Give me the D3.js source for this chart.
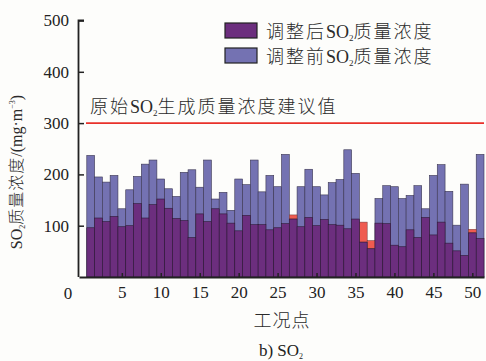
<!DOCTYPE html>
<html><head><meta charset="utf-8">
<script src="https://cdn.jsdelivr.net/npm/d3@7"></script>
<style>
  html,body{margin:0;padding:0;background:#fdfdfb;}
  svg{display:block;}
  text{font-family:"Liberation Serif","Times New Roman",serif;fill:#222;}
  .cjk{font-family:"Liberation Serif","Noto Sans CJK SC",serif;font-weight:300;fill:#2a2a2a;}
</style></head>
<body>
<script>
// 工况点 1..51
const points = d3.range(1, 52);
// 调整前 SO2 质量浓度 (mg/m3)
const before = [237,195,185,198,133,170,196,220,228,191,172,157,204,209,175,228,152,165,130,191,
                180,228,166,198,176,239,113,176,210,176,160,184,190,248,202,68,55,153,178,176,
                153,159,178,133,198,219,167,101,181,86,239];
// 调整后 SO2 质量浓度 (mg/m3)
const after = [96,115,108,118,98,100,143,115,141,152,134,114,110,77,123,108,133,123,105,90,
               120,102,102,92,96,104,121,98,116,100,112,102,101,94,113,107,71,105,104,62,
               59,92,77,116,82,107,66,51,42,93,75];
const limitValue = 300;
const yTicks = [100, 200, 300, 400, 500];
const xTicks = [5, 10, 15, 20, 25, 30, 35, 40, 45, 50];

const W = 486, H = 361;
const colBefore = "#7472b2", colAfter = "#6c2e7e", colOver = "#ef5b50", colLimit = "#e8302a";
const cjkSpacing = 2;

const svg = d3.select("body").append("svg").attr("width", W).attr("height", H);
svg.append("rect").attr("width", W).attr("height", H).attr("fill", "#fdfdfb");

const x = d3.scaleLinear().domain([-0.5, 51.5]).range([79, 484]);
const y = d3.scaleLinear().domain([0, 500]).range([277, 20.5]);
const bw = x(1) - x(0);

const rows = points.map((p, i) => ({p, b: before[i], a: after[i]}));
const g = svg.append("g");

// 调整前 (full height)
g.selectAll("rect.before").data(rows).join("rect")
  .attr("class", "before")
  .attr("x", d => x(d.p) - bw / 2).attr("width", bw)
  .attr("y", d => y(d.b)).attr("height", d => y(0) - y(d.b))
  .attr("fill", colBefore).attr("stroke", "#3a3550").attr("stroke-width", 0.6);

// 调整后 exceeding 调整前
g.selectAll("rect.over").data(rows.filter(d => d.a > d.b)).join("rect")
  .attr("class", "over")
  .attr("x", d => x(d.p) - bw / 2).attr("width", bw)
  .attr("y", d => y(d.a)).attr("height", d => y(d.b) - y(d.a))
  .attr("fill", colOver).attr("stroke", "#6a3a3a").attr("stroke-width", 0.5);

// overlap of both
g.selectAll("rect.after").data(rows).join("rect")
  .attr("class", "after")
  .attr("x", d => x(d.p) - bw / 2).attr("width", bw)
  .attr("y", d => y(Math.min(d.a, d.b))).attr("height", d => y(0) - y(Math.min(d.a, d.b)))
  .attr("fill", colAfter).attr("stroke", "#2e1a36").attr("stroke-width", 0.6);

// limit line
svg.append("line")
  .attr("x1", x(0.4)).attr("x2", x(51.5))
  .attr("y1", y(limitValue)).attr("y2", y(limitValue))
  .attr("stroke", colLimit).attr("stroke-width", 1.6);
const lt = svg.append("text").attr("class", "cjk")
  .attr("x", 90).attr("y", 113).attr("font-size", 18);
lt.append("tspan").text("原始").attr("letter-spacing", cjkSpacing);
lt.append("tspan").text("SO");
lt.append("tspan").text("2").attr("font-size", 9).attr("dy", 3);
lt.append("tspan").text("生成质量浓度建议值").attr("dy", -3).attr("letter-spacing", cjkSpacing);

// axes
const yAxis = d3.axisLeft(y).tickValues(yTicks).tickSizeInner(-5).tickSizeOuter(0).tickPadding(10);
const ya = svg.append("g").attr("transform", `translate(${x(-0.5)},0)`).call(yAxis);
ya.select(".domain").attr("stroke", "#222").attr("stroke-width", 1.8)
  .attr("d", `M-0.5,${y(0)}V${y(500)}H5`);
ya.selectAll(".tick line").attr("stroke", "#222").attr("stroke-width", 1.5);
ya.selectAll(".tick text").attr("font-size", 17).attr("fill", "#222")
  .attr("font-family", "Liberation Serif, serif");

const xAxis = d3.axisBottom(x).tickValues(xTicks).tickSizeInner(-4).tickSizeOuter(0).tickPadding(9);
const xa = svg.append("g").attr("transform", `translate(0,${y(0)})`).call(xAxis);
xa.select(".domain").attr("stroke", "#222").attr("stroke-width", 1.8);
xa.selectAll(".tick line").attr("stroke", "#222").attr("stroke-width", 1.5);
xa.selectAll(".tick text").attr("font-size", 17).attr("fill", "#222")
  .attr("font-family", "Liberation Serif, serif");

// origin label
svg.append("text").attr("x", 68).attr("y", 299).attr("text-anchor", "middle")
  .attr("font-size", 17).text("0");

// y title
const yt = svg.append("text").attr("class", "cjk")
  .attr("transform", `translate(22,172) rotate(-90)`)
  .attr("text-anchor", "middle").attr("font-size", 16);
yt.append("tspan").text("SO");
yt.append("tspan").text("2").attr("font-size", 8).attr("dy", 3);
yt.append("tspan").text("质量浓度").attr("dy", -3).attr("letter-spacing", 1);
yt.append("tspan").text("/(mg·m");
yt.append("tspan").text("−3").attr("font-size", 8).attr("dy", -7);
yt.append("tspan").text(")").attr("dy", 7);

// x title and caption
svg.append("text").attr("class", "cjk").attr("x", 282).attr("y", 327)
  .attr("text-anchor", "middle").attr("font-size", 18).attr("letter-spacing", 1).text("工况点");
const cap = svg.append("text").attr("x", 281).attr("y", 356)
  .attr("text-anchor", "middle").attr("font-size", 17);
cap.append("tspan").text("b) SO");
cap.append("tspan").text("2").attr("font-size", 8).attr("dy", 3);

// legend
const legend = [
  {name: "调整后", color: colAfter},
  {name: "调整前", color: colBefore}
];
const lg = svg.append("g").selectAll("g").data(legend).join("g")
  .attr("transform", (d, i) => `translate(225,${23 + i * 25})`);
lg.append("rect").attr("width", 32).attr("height", 15)
  .attr("fill", d => d.color).attr("stroke", "#222").attr("stroke-width", 1.2);
const lgt = lg.append("text").attr("class", "cjk").attr("x", 41).attr("y", 14.5).attr("font-size", 18);
lgt.append("tspan").text(d => d.name).attr("letter-spacing", cjkSpacing);
lgt.append("tspan").text("SO");
lgt.append("tspan").text("2").attr("font-size", 9).attr("dy", 3);
lgt.append("tspan").text("质量浓度").attr("dy", -3).attr("letter-spacing", cjkSpacing);
</script>
</body></html>
